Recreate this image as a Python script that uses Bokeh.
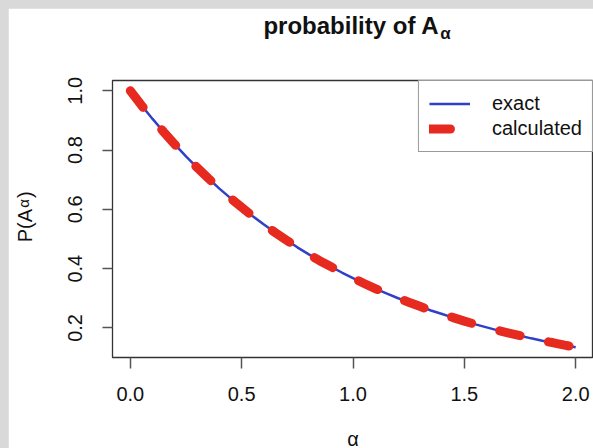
from bokeh.plotting import figure
from bokeh.models import Range1d, FixedTicker, Legend, LegendItem, ColumnDataSource, LinearAxis
from bokeh.embed import file_html
from bokeh.resources import INLINE

# ---- data ----
alpha = [0.00, 0.05, 0.10, 0.15, 0.20, 0.25, 0.30, 0.35, 0.40, 0.45,
         0.50, 0.55, 0.60, 0.65, 0.70, 0.75, 0.80, 0.85, 0.90, 0.95,
         1.00, 1.05, 1.10, 1.15, 1.20, 1.25, 1.30, 1.35, 1.40, 1.45,
         1.50, 1.55, 1.60, 1.65, 1.70, 1.75, 1.80, 1.85, 1.90, 1.95, 2.00]
exact = [1.000, 0.951, 0.905, 0.861, 0.819, 0.779, 0.741, 0.705, 0.670, 0.638,
         0.607, 0.577, 0.549, 0.522, 0.497, 0.472, 0.449, 0.427, 0.407, 0.387,
         0.368, 0.350, 0.333, 0.317, 0.301, 0.287, 0.273, 0.259, 0.247, 0.235,
         0.223, 0.212, 0.202, 0.192, 0.183, 0.174, 0.165, 0.157, 0.150, 0.142, 0.135]
calculated = [1.000, 0.951, 0.905, 0.861, 0.819, 0.779, 0.741, 0.705, 0.670, 0.638,
              0.607, 0.577, 0.549, 0.522, 0.497, 0.472, 0.449, 0.427, 0.407, 0.387,
              0.368, 0.350, 0.333, 0.317, 0.301, 0.287, 0.273, 0.259, 0.247, 0.235,
              0.223, 0.212, 0.202, 0.192, 0.183, 0.174, 0.165, 0.157, 0.150, 0.142, 0.135]
x_ticks = [0.0, 0.5, 1.0, 1.5, 2.0]
x_tick_labels = ["0.0", "0.5", "1.0", "1.5", "2.0"]
y_ticks = [0.2, 0.4, 0.6, 0.8, 1.0]
y_tick_labels = ["0.2", "0.4", "0.6", "0.8", "1.0"]
series_names = ["exact", "calculated"]
title_main, title_sub = "probability of A", "α"
ylabel_main, ylabel_sub, ylabel_close = "P(A", "α", ")"
xlabel = "α"

# ---- layout ----
FONT = "Liberation Sans"
XMIN, XMAX = -0.08, 2.08
YMIN, YMAX = 0.1004, 1.0346
BL, BT, FW, FH, BR, BB = 104, 65, 481, 277, 0, 98

p = figure(frame_width=FW, frame_height=FH,
           min_border_left=BL, min_border_right=BR, min_border_top=BT, min_border_bottom=BB,
           x_range=Range1d(XMIN, XMAX), y_range=Range1d(YMIN, YMAX),
           output_backend="svg", toolbar_location=None, title=None)
p.background_fill_color = "white"
p.border_fill_color = "white"
p.outline_line_color = "#333333"
p.outline_line_width = 1.3
p.xgrid.visible = False
p.ygrid.visible = False

for ax, ticks, labels in ((p.xaxis[0], x_ticks, x_tick_labels), (p.yaxis[0], y_ticks, y_tick_labels)):
    ax.ticker = FixedTicker(ticks=ticks)
    ax.major_label_overrides = {t: l for t, l in zip(ticks, labels)}
    ax.minor_tick_line_color = None
    ax.axis_line_color = None
    ax.major_tick_in = 0
    ax.major_tick_line_color = "#555555"
    ax.major_tick_line_width = 1.5
    ax.major_label_text_font = FONT
    ax.major_label_text_font_size = "20px"
    ax.major_label_text_color = "#111111"
p.xaxis[0].major_tick_out = 11
p.xaxis[0].major_label_standoff = 18
p.xaxis[0].axis_label = xlabel
p.xaxis[0].axis_label_text_font = FONT
p.xaxis[0].axis_label_text_font_size = "20px"
p.xaxis[0].axis_label_text_font_style = "normal"
p.xaxis[0].axis_label_text_color = "#111111"
p.xaxis[0].axis_label_standoff = 24
p.yaxis[0].major_tick_out = 10
p.yaxis[0].major_label_standoff = 20
p.yaxis[0].major_label_orientation = "vertical"

src = ColumnDataSource(dict(alpha=alpha, exact=exact, calculated=calculated))
r_exact = p.line("alpha", "exact", source=src, line_color="#3040c8", line_width=2.5)
r_calc = p.line("alpha", "calculated", source=src, line_color="#e62a1f", line_width=9,
                line_dash="21 29", line_cap="round")

legend = Legend(items=[LegendItem(label=series_names[0], renderers=[r_exact]),
                       LegendItem(label=series_names[1], renderers=[r_calc])],
                location="top_right", margin=0, padding=10, spacing=0,
                glyph_width=41, glyph_height=25, label_height=25, label_standoff=22,
                label_text_font=FONT, label_text_font_size="20px", label_text_color="#111111",
                border_line_color="#333333", border_line_width=1.2,
                background_fill_color="white", background_fill_alpha=1.0)
p.add_layout(legend)

# text pieces carried by label-only axes in the side panels (so they are not clipped)
def text_axis(side, positions, texts, size, standoff, style="normal", vertical=False):
    ax = LinearAxis(ticker=FixedTicker(ticks=positions),
                    major_label_overrides={q: t for q, t in zip(positions, texts)},
                    axis_line_color=None, major_tick_line_color=None, minor_tick_line_color=None,
                    major_tick_in=0, major_tick_out=0, major_label_standoff=standoff,
                    major_label_text_font=FONT, major_label_text_font_size=size,
                    major_label_text_font_style=style, major_label_text_color="#111111")
    if vertical:
        ax.major_label_orientation = "vertical"
    p.add_layout(ax, side)
    return ax

# title "probability of A_α" (positions along x in data units)
text_axis("above", [0.993], [title_main], "24px", 42, style="bold")
text_axis("above", [1.415], [title_sub], "17px", -34, style="bold")
# y label "P(A_α)"
text_axis("left", [0.545, 0.650], [ylabel_main, ylabel_close], "20px", 29, vertical=True)
text_axis("left", [0.620], [ylabel_sub], "15px", -21, vertical=True)

html = file_html(p, INLINE)
style = ("<style>html,body{margin:0 !important;padding:0 !important;background:#d9d9d9 !important;"
         "height:auto !important;overflow:hidden;}body{margin:8px 0 0 8px !important;}</style>")
html = html.replace("</head>", style + "</head>", 1)
open("out.html", "w").write(html)
